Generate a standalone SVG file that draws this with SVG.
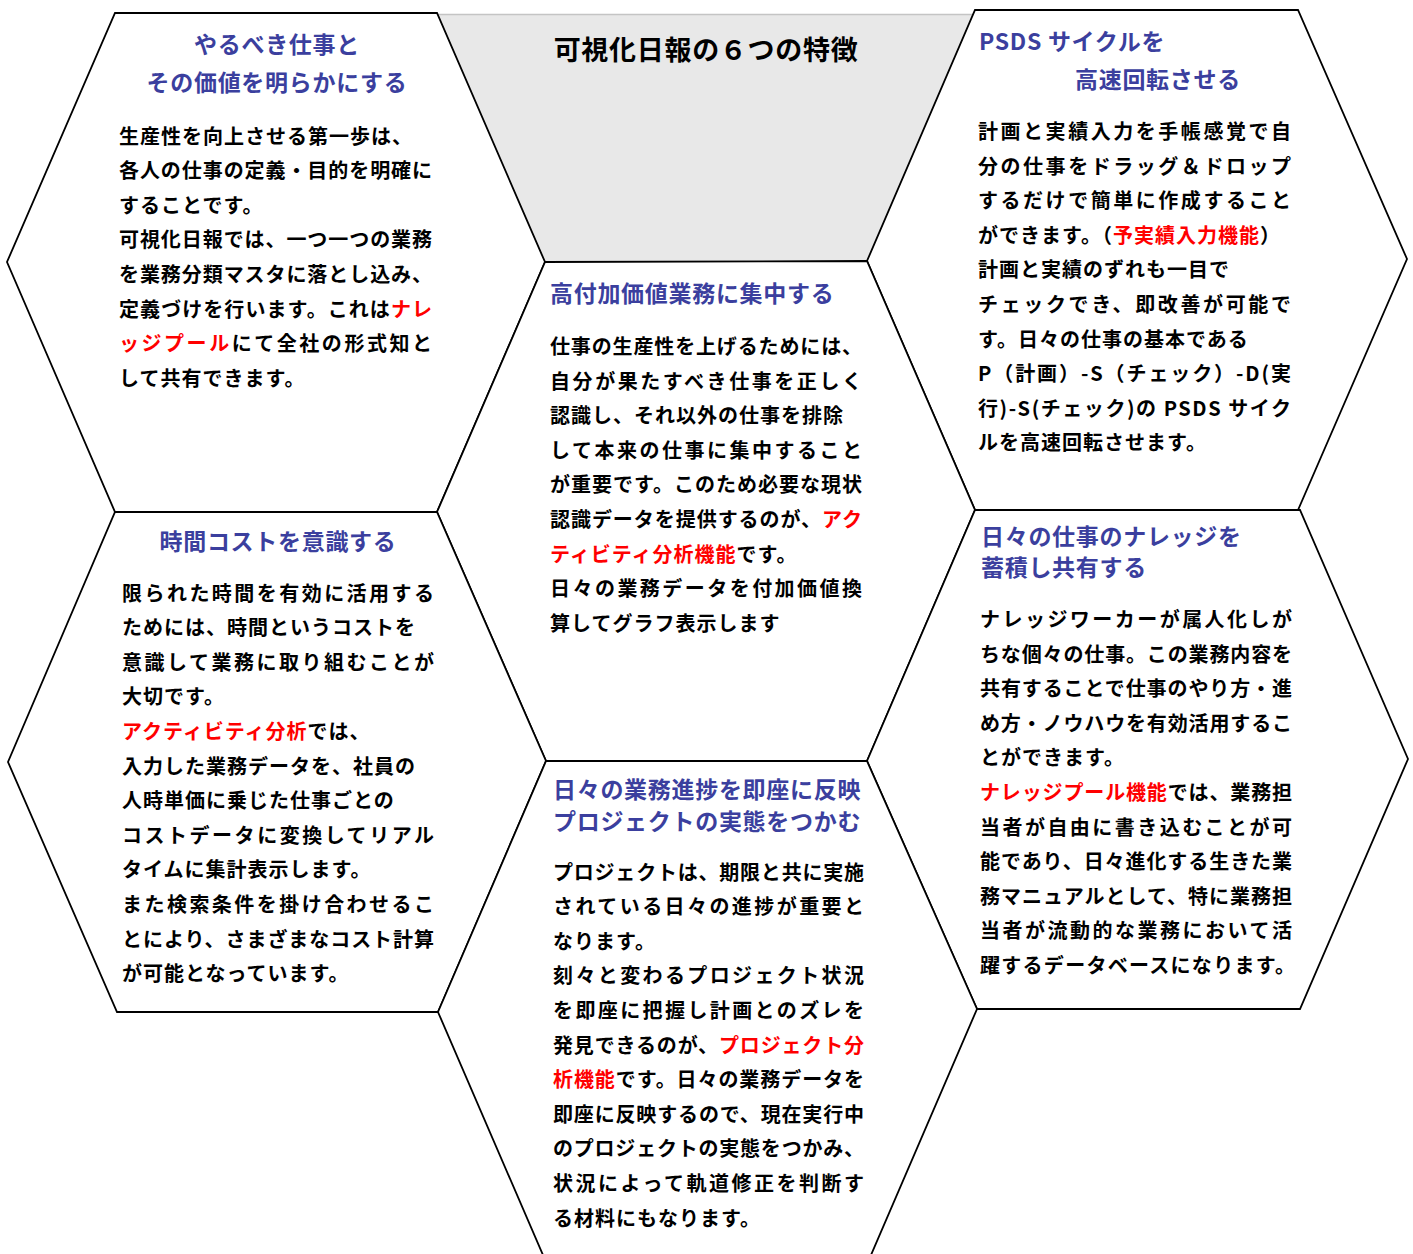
<svg xmlns="http://www.w3.org/2000/svg" width="1413" height="1254" viewBox="0 0 1413 1254">
<style>
.hex{fill:#ffffff;stroke:#000000;stroke-width:1.8;stroke-linejoin:miter}
text{font-family:'Noto Sans CJK JP','Noto Sans CJK SC',sans-serif;font-weight:700}
.ttl{font-size:23px;fill:#3b3f9e;letter-spacing:0.7px}
.b{font-size:20px;fill:#000000;letter-spacing:1px}
.r{fill:#ff0000}
.main{font-size:27px;fill:#000000;letter-spacing:0.7px}
</style>
<rect x="0" y="0" width="1413" height="1254" fill="#ffffff"/>

<g id="header">
<polygon points="437,14 973,14 867,261 545,262" fill="#e8e8e8"/>
<line x1="437" y1="14.5" x2="973" y2="14.5" stroke="#c4c4c4" stroke-width="1.5"/>
<text class="main" x="706" y="60" text-anchor="middle">可視化日報の６つの特徴</text>
</g>

<g id="node-task-value">
<polygon class="hex" points="115,13 437,13 545,262 437,512 115,512 7,262"/>
<text class="ttl" x="277" y="53" text-anchor="middle">やるべき仕事と</text>
<text class="ttl" x="277" y="91" text-anchor="middle">その価値を明らかにする</text>
<text class="b" x="119" y="143.5">生産性を向上させる第一歩は、</text>
<text class="b" x="119" y="178.1" textLength="314" lengthAdjust="spacing">各人の仕事の定義・目的を明確に</text>
<text class="b" x="119" y="212.7">することです。</text>
<text class="b" x="119" y="247.3" textLength="314" lengthAdjust="spacing">可視化日報では、一つ一つの業務</text>
<text class="b" x="119" y="281.9" textLength="314" lengthAdjust="spacing">を業務分類マスタに落とし込み、</text>
<text class="b" x="119" y="316.5" textLength="314" lengthAdjust="spacing">定義づけを行います。これは<tspan class="r">ナレ</tspan></text>
<text class="b" x="119" y="351.1" textLength="314" lengthAdjust="spacing"><tspan class="r">ッジプール</tspan>にて全社の形式知と</text>
<text class="b" x="119" y="385.7">して共有できます。</text>
</g>

<g id="node-psds">
<polygon class="hex" points="975,10 1298,10 1407,259 1298,510 975,510 867,261"/>
<text class="ttl" x="979" y="50">PSDS サイクルを</text>
<text class="ttl" x="1075" y="88">高速回転させる</text>
<text class="b" x="978" y="139" textLength="314" lengthAdjust="spacing">計画と実績入力を手帳感覚で自</text>
<text class="b" x="978" y="173.6" textLength="314" lengthAdjust="spacing">分の仕事をドラッグ＆ドロップ</text>
<text class="b" x="978" y="208.2" textLength="314" lengthAdjust="spacing">するだけで簡単に作成すること</text>
<text class="b" x="978" y="242.8">ができます。（<tspan class="r">予実績入力機能</tspan>）</text>
<text class="b" x="978" y="277.4">計画と実績のずれも一目で</text>
<text class="b" x="978" y="312" textLength="314" lengthAdjust="spacing">チェックでき、即改善が可能で</text>
<text class="b" x="978" y="346.6">す。日々の仕事の基本である</text>
<text class="b" x="978" y="381.2" textLength="314" lengthAdjust="spacing">P（計画）-S（チェック）-D(実</text>
<text class="b" x="978" y="415.8" textLength="314" lengthAdjust="spacing">行)-S(チェック)の PSDS サイク</text>
<text class="b" x="978" y="450.4">ルを高速回転させます。</text>
</g>

<g id="node-high-value">
<polygon class="hex" points="545,262 867,261 975,510 867,761 546,761 437,512"/>
<text class="ttl" x="550" y="302">高付加価値業務に集中する</text>
<text class="b" x="550" y="354" textLength="313" lengthAdjust="spacing">仕事の生産性を上げるためには、</text>
<text class="b" x="550" y="388.6" textLength="313" lengthAdjust="spacing">自分が果たすべき仕事を正しく</text>
<text class="b" x="550" y="423.2">認識し、それ以外の仕事を排除</text>
<text class="b" x="550" y="457.8" textLength="313" lengthAdjust="spacing">して本来の仕事に集中すること</text>
<text class="b" x="550" y="492.4" textLength="313" lengthAdjust="spacing">が重要です。このため必要な現状</text>
<text class="b" x="550" y="527" textLength="313" lengthAdjust="spacing">認識データを提供するのが、<tspan class="r">アク</tspan></text>
<text class="b" x="550" y="561.6"><tspan class="r">ティビティ分析機能</tspan>です。</text>
<text class="b" x="550" y="596.2" textLength="313" lengthAdjust="spacing">日々の業務データを付加価値換</text>
<text class="b" x="550" y="630.8">算してグラフ表示します</text>
</g>

<g id="node-time-cost">
<polygon class="hex" points="115,512 437,512 546,761 438,1012 117,1012 8,762"/>
<text class="ttl" x="278" y="550" text-anchor="middle">時間コストを意識する</text>
<text class="b" x="122" y="600.5" textLength="313" lengthAdjust="spacing">限られた時間を有効に活用する</text>
<text class="b" x="122" y="635.1">ためには、時間というコストを</text>
<text class="b" x="122" y="669.7" textLength="313" lengthAdjust="spacing">意識して業務に取り組むことが</text>
<text class="b" x="122" y="704.3">大切です。</text>
<text class="b" x="122" y="738.9"><tspan class="r">アクティビティ分析</tspan>では、</text>
<text class="b" x="122" y="773.5">入力した業務データを、社員の</text>
<text class="b" x="122" y="808.1">人時単価に乗じた仕事ごとの</text>
<text class="b" x="122" y="842.7" textLength="313" lengthAdjust="spacing">コストデータに変換してリアル</text>
<text class="b" x="122" y="877.3">タイムに集計表示します。</text>
<text class="b" x="122" y="911.9" textLength="313" lengthAdjust="spacing">また検索条件を掛け合わせるこ</text>
<text class="b" x="122" y="946.5" textLength="313" lengthAdjust="spacing">とにより、さまざまなコスト計算</text>
<text class="b" x="122" y="981.1">が可能となっています。</text>
</g>

<g id="node-knowledge">
<polygon class="hex" points="975,510 1300,510 1408,759 1300,1009 977,1009 867,761"/>
<text class="ttl" x="981" y="545">日々の仕事のナレッジを</text>
<text class="ttl" x="981" y="576">蓄積し共有する</text>
<text class="b" x="980" y="627" textLength="313" lengthAdjust="spacing">ナレッジワーカーが属人化しが</text>
<text class="b" x="980" y="661.6" textLength="313" lengthAdjust="spacing">ちな個々の仕事。この業務内容を</text>
<text class="b" x="980" y="696.2" textLength="313" lengthAdjust="spacing">共有することで仕事のやり方・進</text>
<text class="b" x="980" y="730.8" textLength="313" lengthAdjust="spacing">め方・ノウハウを有効活用するこ</text>
<text class="b" x="980" y="765.4">とができます。</text>
<text class="b" x="980" y="800" textLength="313" lengthAdjust="spacing"><tspan class="r">ナレッジプール機能</tspan>では、業務担</text>
<text class="b" x="980" y="834.6" textLength="313" lengthAdjust="spacing">当者が自由に書き込むことが可</text>
<text class="b" x="980" y="869.2" textLength="313" lengthAdjust="spacing">能であり、日々進化する生きた業</text>
<text class="b" x="980" y="903.8" textLength="313" lengthAdjust="spacing">務マニュアルとして、特に業務担</text>
<text class="b" x="980" y="938.4" textLength="313" lengthAdjust="spacing">当者が流動的な業務において活</text>
<text class="b" x="980" y="973" textLength="316" lengthAdjust="spacing">躍するデータベースになります。</text>
</g>

<g id="node-project">
<polygon class="hex" points="546,761 867,761 977,1009 868,1262 546,1262 438,1012"/>
<text class="ttl" x="553" y="798">日々の業務進捗を即座に反映</text>
<text class="ttl" x="553" y="830">プロジェクトの実態をつかむ</text>
<text class="b" x="553" y="879.5" textLength="312" lengthAdjust="spacing">プロジェクトは、期限と共に実施</text>
<text class="b" x="553" y="914.1" textLength="312" lengthAdjust="spacing">されている日々の進捗が重要と</text>
<text class="b" x="553" y="948.7">なります。</text>
<text class="b" x="553" y="983.3" textLength="312" lengthAdjust="spacing">刻々と変わるプロジェクト状況</text>
<text class="b" x="553" y="1017.9" textLength="312" lengthAdjust="spacing">を即座に把握し計画とのズレを</text>
<text class="b" x="553" y="1052.5" textLength="312" lengthAdjust="spacing">発見できるのが、<tspan class="r">プロジェクト分</tspan></text>
<text class="b" x="553" y="1087.1" textLength="312" lengthAdjust="spacing"><tspan class="r">析機能</tspan>です。日々の業務データを</text>
<text class="b" x="553" y="1121.7" textLength="312" lengthAdjust="spacing">即座に反映するので、現在実行中</text>
<text class="b" x="553" y="1156.3" textLength="312" lengthAdjust="spacing">のプロジェクトの実態をつかみ、</text>
<text class="b" x="553" y="1190.9" textLength="312" lengthAdjust="spacing">状況によって軌道修正を判断す</text>
<text class="b" x="553" y="1225.5">る材料にもなります。</text>
</g>
</svg>
